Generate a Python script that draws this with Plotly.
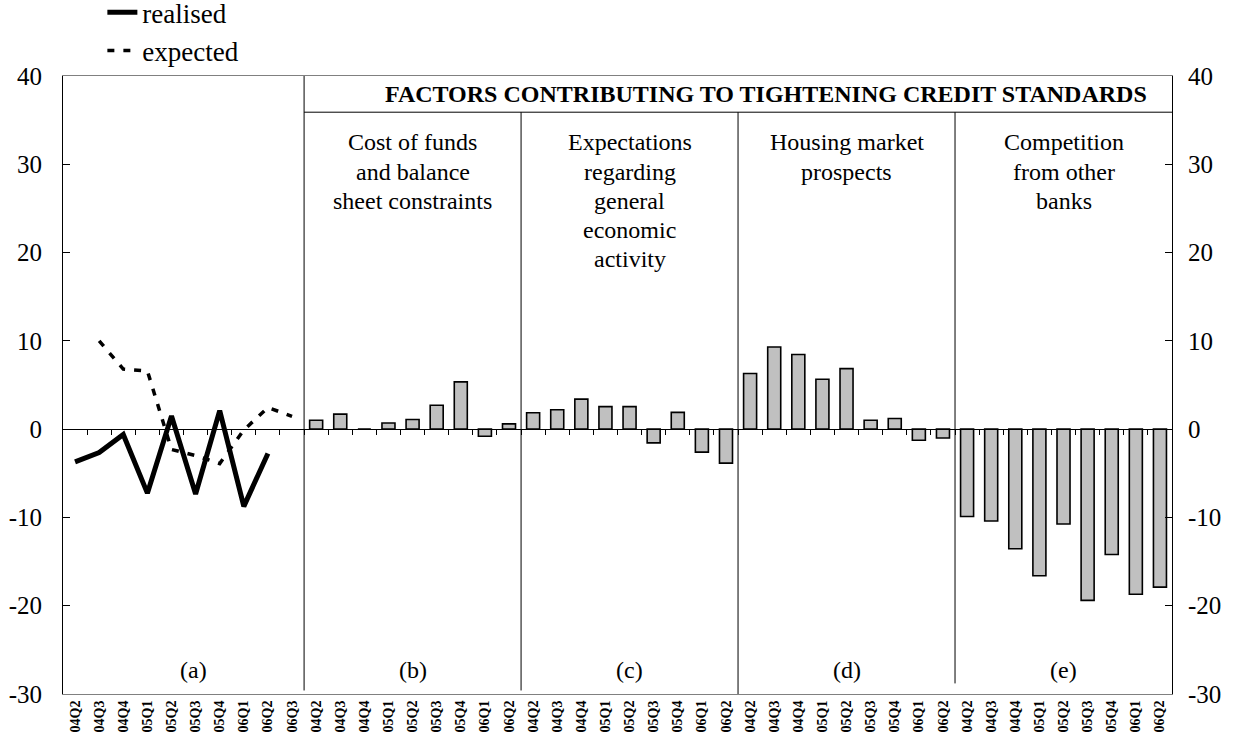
import plotly.graph_objects as go

# ---------------- data ----------------
periods_a = ["04Q2", "04Q3", "04Q4", "05Q1", "05Q2", "05Q3", "05Q4", "06Q1", "06Q2", "06Q3"]
periods_f = ["04Q2", "04Q3", "04Q4", "05Q1", "05Q2", "05Q3", "05Q4", "06Q1", "06Q2"]

realised = [-3.7, -2.65, -0.6, -7.25, 1.5, -7.35, 2.1, -8.75, -2.75, None]
expected = [None, 10.0, 6.8, 6.6, -2.3, -3.0, -3.9, -0.1, 2.45, 1.45]

cost_of_funds = [1.0, 1.7, 0.0, 0.7, 1.1, 2.7, 5.35, -0.8, 0.6]
expectations = [1.85, 2.2, 3.4, 2.55, 2.55, -1.55, 1.9, -2.6, -3.85]
housing = [6.3, 9.3, 8.45, 5.65, 6.85, 1.0, 1.2, -1.25, -1.0]
competition = [-9.9, -10.4, -13.55, -16.6, -10.75, -19.4, -14.2, -18.7, -17.9]

y_ticks = [-30, -20, -10, 0, 10, 20, 30, 40]

panel_titles = [
    ["Cost of funds", "and balance", "sheet constraints"],
    ["Expectations", "regarding", "general", "economic", "activity"],
    ["Housing market", "prospects"],
    ["Competition", "from other", "banks"],
]
panel_letters = ["(a)", "(b)", "(c)", "(d)", "(e)"]
header = "FACTORS CONTRIBUTING TO TIGHTENING CREDIT STANDARDS"

# ---------------- build ----------------
FONT = "Liberation Serif, Times New Roman, serif"
factors = [cost_of_funds, expectations, housing, competition]
n_a = len(periods_a)
n_f = len(periods_f)
tick_labels = periods_a + periods_f * len(factors)
n_all = len(tick_labels)
x_a = list(range(n_a))
y_ticktext = [str(v) for v in y_ticks]

fig = go.Figure()

panel_centers = [(n_a - 1) / 2]
for k, vals in enumerate(factors):
    off = n_a + k * n_f
    xs = [off + i for i in range(n_f)]
    panel_centers.append(off + (n_f - 1) / 2)
    fig.add_trace(go.Bar(
        x=xs, y=vals, width=0.54, showlegend=False,
        name=" ".join(panel_titles[k]),
        marker=dict(color="#c0c0c0", line=dict(color="black", width=1.6)),
        xaxis="x", yaxis="y"))

fig.add_trace(go.Scatter(
    x=x_a, y=realised, mode="lines", name="realised",
    line=dict(color="black", width=5), xaxis="x2", yaxis="y2",
    connectgaps=False))
fig.add_trace(go.Scatter(
    x=x_a, y=expected, mode="lines", name="expected",
    line=dict(color="black", width=3.5, dash="7px,9px"), xaxis="x2", yaxis="y2",
    connectgaps=False))

xr = [-0.5, n_all - 0.5]
yr = [-30, 40]

shapes = []
boundaries = [n_a - 0.5 + k * n_f for k in range(len(factors))]
shapes.append(dict(type="line", xref="x", yref="y", x0=boundaries[0], x1=boundaries[0],
                   y0=-29.6, y1=40, line=dict(color="black", width=1)))
bottoms = [-29.6, -30, -28.8]
for b, yb in zip(boundaries[1:], bottoms):
    shapes.append(dict(type="line", xref="x", yref="y", x0=b, x1=b, y0=yb, y1=35.9,
                       line=dict(color="black", width=1)))
shapes.append(dict(type="line", xref="x", yref="y", x0=boundaries[0], x1=xr[1] + 0.12,
                   y0=35.9, y1=35.9, line=dict(color="black", width=1)))

annotations = []
annotations.append(dict(text="<b>" + header + "</b>", x=28.66, y=38.0, xref="x", yref="y",
                        showarrow=False, font=dict(family=FONT, size=24, color="black"),
                        xanchor="center", yanchor="middle"))
for k, lines in enumerate(panel_titles):
    for j, t in enumerate(lines):
        annotations.append(dict(text=t, x=panel_centers[k + 1], y=32.5 - j * 3.32,
                                xref="x", yref="y", showarrow=False,
                                font=dict(family=FONT, size=24, color="black"),
                                xanchor="center", yanchor="middle"))
letter_x = [4.9] + panel_centers[1:]
for t, xx in zip(panel_letters, letter_x):
    annotations.append(dict(text=t, x=xx, y=-27.3, xref="x", yref="y", showarrow=False,
                            font=dict(family=FONT, size=24, color="black"),
                            xanchor="center", yanchor="middle"))

fig.update_layout(
    width=1235, height=742,
    margin=dict(l=63, r=63, t=76, b=48, autoexpand=False),
    paper_bgcolor="white", plot_bgcolor="white",
    font=dict(family=FONT, color="black", size=24),
    showlegend=True,
    legend=dict(x=0.0355, y=1.142, xanchor="left", yanchor="top",
                font=dict(family=FONT, size=27, color="black"),
                bgcolor="rgba(0,0,0,0)", tracegroupgap=0, itemwidth=30),
    xaxis=dict(range=xr, tickmode="array", tickvals=list(range(n_all)), ticktext=tick_labels,
               tickangle=-90, tickfont=dict(family=FONT, size=14, color="black", weight="bold"),
               showline=True, linecolor="#808080", linewidth=1, mirror=True,
               ticks="", showgrid=False, zeroline=False, automargin=False),
    xaxis2=dict(range=xr, overlaying="x", anchor="free", position=3 / 7,
                tickmode="array", tickvals=[i + 0.5 for i in range(n_all - 1)],
                ticks="outside", ticklen=5, tickcolor="black",
                showticklabels=False, showline=True, linecolor="black", linewidth=1,
                showgrid=False, zeroline=False, automargin=False),
    yaxis=dict(range=yr, tickmode="array", tickvals=y_ticks, ticktext=y_ticktext,
               ticks="inside", ticklen=7, tickcolor="black",
               showline=True, linecolor="black", linewidth=1,
               tickfont=dict(family=FONT, size=25, color="black"),
               ticklabelstandoff=15, showgrid=False, zeroline=False, automargin=False),
    yaxis2=dict(range=yr, tickmode="array", tickvals=y_ticks, ticktext=y_ticktext,
                overlaying="y", side="right", anchor="x",
                ticks="inside", ticklen=7, tickcolor="black",
                showline=True, linecolor="black", linewidth=1,
                tickfont=dict(family=FONT, size=25, color="black"),
                ticklabelstandoff=10, showgrid=False, zeroline=False, automargin=False),
    shapes=shapes,
    annotations=annotations,
)

fig.write_html("out.html", config={"displayModeBar": False},
               post_script="document.body.style.margin='0';")
